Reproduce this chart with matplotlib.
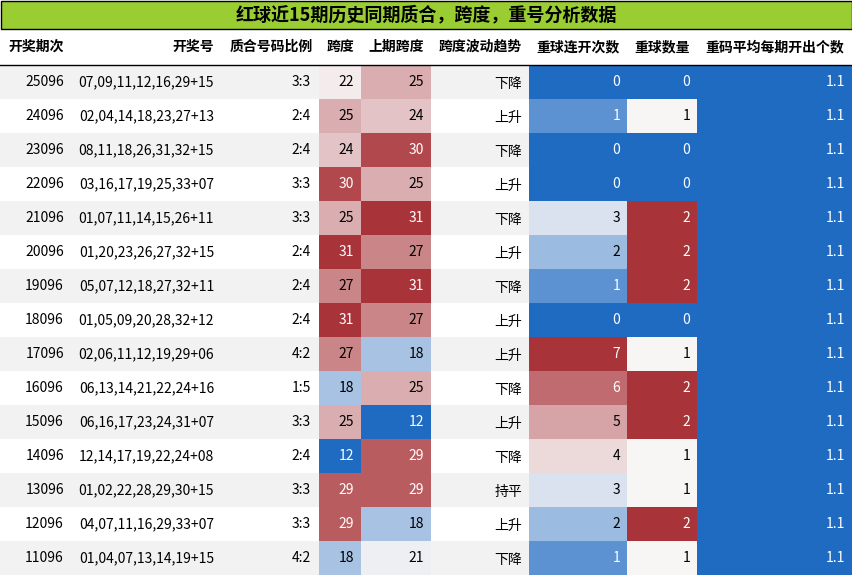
import matplotlib
matplotlib.use("Agg")
import matplotlib.pyplot as plt
from matplotlib.colors import LinearSegmentedColormap
from matplotlib.patches import Rectangle

plt.rcParams['font.family'] = ['Noto Sans CJK SC', 'DejaVu Sans']

title = "红球近15期历史同期质合，跨度，重号分析数据"
headers = ["开奖期次", "开奖号", "质合号码比例", "跨度", "上期跨度", "跨度波动趋势", "重球连开次数", "重球数量", "重码平均每期开出个数"]
periods = ["25096","24096","23096","22096","21096","20096","19096","18096","17096","16096","15096","14096","13096","12096","11096"]
numbers = ["07,09,11,12,16,29+15","02,04,14,18,23,27+13","08,11,18,26,31,32+15","03,16,17,19,25,33+07",
           "01,07,11,14,15,26+11","01,20,23,26,27,32+15","05,07,12,18,27,32+11","01,05,09,20,28,32+12",
           "02,06,11,12,19,29+06","06,13,14,21,22,24+16","06,16,17,23,24,31+07","12,14,17,19,22,24+08",
           "01,02,22,28,29,30+15","04,07,11,16,29,33+07","01,04,07,13,14,19+15"]
ratios = ["3:3","2:4","2:4","3:3","3:3","2:4","2:4","2:4","4:2","1:5","3:3","2:4","3:3","3:3","4:2"]
spans = [22,25,24,30,25,31,27,31,27,18,25,12,29,29,18]
prev_spans = [25,24,30,25,31,27,31,27,18,25,12,29,29,18,21]
trends = ["下降","上升","下降","上升","下降","上升","下降","上升","上升","下降","上升","下降","持平","上升","下降"]
repeat_runs = [0,1,0,0,3,2,1,0,7,6,5,4,3,2,1]
repeat_counts = [0,1,0,0,2,2,2,0,1,2,2,1,1,2,1]
avg_repeat = [1.1]*15

W, H = 852, 576
fig = plt.figure(figsize=(W/100, H/100), dpi=100)
ax = fig.add_axes([0, 0, 1, 1])
ax.set_xlim(0, W); ax.set_ylim(H, 0); ax.axis('off')

cmap = LinearSegmentedColormap.from_list("d", ["#1f6bc2", "#f8f6f6", "#a8343a"])

edges = [0, 72, 220, 319, 361, 431, 529, 627, 697, 852]
# title
ax.add_patch(Rectangle((0.5, 0.5), W-1, 28, facecolor="#9acd32", edgecolor="black", lw=1))
ax.text(W/2, 15, title, ha='center', va='center', fontsize=13, fontweight='bold')
# header
hy = 47
halign = ['right','right','right','center','center','center','center','center','center']
for i, h in enumerate(headers):
    x0, x1 = edges[i], edges[i+1]
    if i in (0,):
        ax.text(x1-8, hy, h, ha='right', va='center', fontsize=10, fontweight='bold')
    elif i in (1, 2):
        ax.text(x1-6, hy, h, ha='right', va='center', fontsize=10, fontweight='bold')
    else:
        ax.text((x0+x1)/2, hy, h, ha='center', va='center', fontsize=10, fontweight='bold')
ax.plot([0, W], [64.5, 64.5], color='black', lw=1)

y0, rh = 65, 34

def colored(vals):
    lo, hi = min(vals), max(vals)
    out = []
    for v in vals:
        t = 0.0 if hi == lo else (v - lo) / (hi - lo)
        out.append(cmap(t))
    return out

cols_color = {3: colored(spans), 4: colored(prev_spans), 6: colored(repeat_runs),
              7: colored(repeat_counts), 8: colored(avg_repeat)}
cols_vals = {3: spans, 4: prev_spans, 6: repeat_runs, 7: repeat_counts, 8: avg_repeat}

def txtcolor(c):
    lum = 0.299*c[0] + 0.587*c[1] + 0.114*c[2]
    return 'white' if lum < 0.6 else 'black'

for r in range(15):
    top = y0 + r*rh
    cy = top + rh/2
    bg = "#f2f2f2" if r % 2 == 0 else "white"
    ax.add_patch(Rectangle((0, top), W, rh, facecolor=bg, edgecolor='none'))
    ax.text(edges[1]-8, cy, periods[r], ha='right', va='center', fontsize=10)
    ax.text(edges[2]-6, cy, numbers[r], ha='right', va='center', fontsize=10)
    ax.text(edges[3]-8, cy, ratios[r], ha='right', va='center', fontsize=10)
    ax.text(edges[6]-7, cy+2, trends[r], ha='right', va='center', fontsize=10)
    for c, colors in cols_color.items():
        col = colors[r]
        ax.add_patch(Rectangle((edges[c], top), edges[c+1]-edges[c], rh, facecolor=col, edgecolor='none'))
        v = cols_vals[c][r]
        ax.text(edges[c+1]-7, cy, str(v), ha='right', va='center', fontsize=10, color=txtcolor(col))

fig.savefig("out.png", dpi=100)
